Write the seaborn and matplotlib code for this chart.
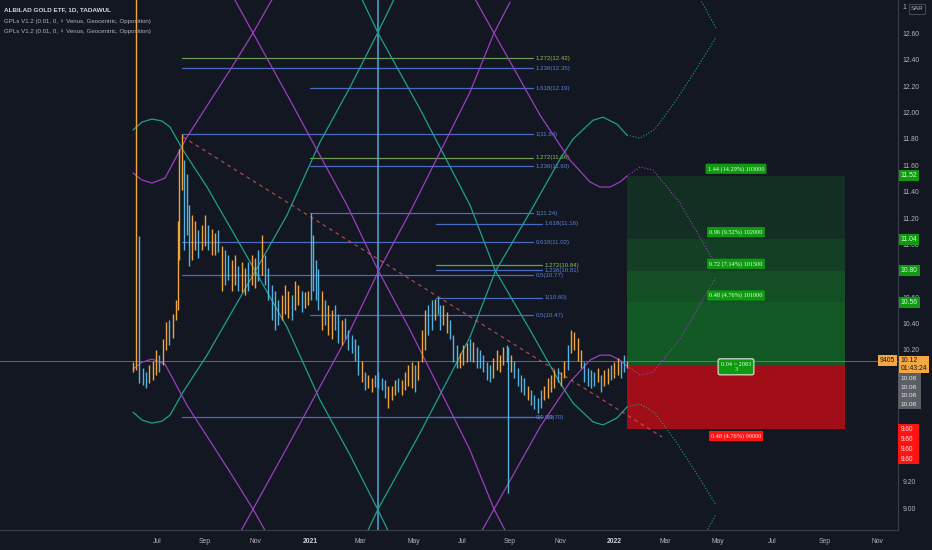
import numpy as np
import pandas as pd
import matplotlib
matplotlib.use("Agg")
import matplotlib.pyplot as plt
import matplotlib.transforms as mtransforms
from matplotlib.patches import Rectangle
import seaborn as sns

# ---------------- data (x = days from 2021-01-01, y = price SAR) ----------------
bar_day = [-212, -209, -205, -201, -197, -193, -189, -185, -181, -177, -173, -169, -165, -161, -159, -157,
           -154, -151, -148, -145, -142, -138, -134, -130, -126, -122, -118, -114, -110, -106, -102, -98,
           -94, -90, -86, -82, -78, -74, -70, -66, -62, -58, -54, -50, -46, -42, -38, -34, -30, -26, -22,
           -18, -14, -10, -6, -2, 1, 4, 7, 10, 14, 18, 22, 26, 30, 34, 38, 42, 46, 50, 54, 58, 62, 66, 70,
           74, 78, 82, 86, 90, 94, 98, 102, 106, 110, 114, 118, 122, 126, 130, 134, 138, 142, 146, 150,
           153, 156, 160, 164, 168, 172, 176, 180, 184, 188, 192, 196, 200, 204, 208, 212, 216, 220, 224,
           228, 232, 236, 238, 241, 245, 249, 253, 257, 261, 265, 269, 273, 277, 281, 285, 289, 293, 297,
           301, 305, 309, 313, 317, 321, 325, 329, 333, 337, 341, 345, 349, 353, 357, 361, 365, 369, 373,
           377, 380]
bar_low = [10.03, 10.05, 9.95, 9.935, 9.91, 9.95, 9.97, 10.01, 10.03, 10.09, 10.2, 10.24, 10.29, 10.43, 10.5,
           10.88, 11.41, 10.96, 11.07, 10.84, 10.88, 10.96, 10.9, 10.96, 10.99, 10.96, 10.92, 10.92, 10.94,
           10.65, 10.69, 10.73, 10.65, 10.69, 10.65, 10.64, 10.62, 10.65, 10.69, 10.67, 10.72, 10.77, 10.69,
           10.58, 10.43, 10.35, 10.39, 10.43, 10.47, 10.44, 10.43, 10.5, 10.54, 10.49, 10.52, 10.54, 10.58,
           10.65, 10.58, 10.5, 10.35, 10.39, 10.31, 10.28, 10.35, 10.25, 10.24, 10.28, 10.2, 10.18, 10.12,
           10.01, 9.96, 9.9, 9.91, 9.88, 9.92, 9.91, 9.9, 9.84, 9.76, 9.82, 9.86, 9.88, 9.86, 9.9, 9.93, 9.91,
           9.88, 9.97, 10.11, 10.2, 10.31, 10.35, 10.43, 10.47, 10.35, 10.39, 10.33, 10.28, 10.11, 10.06,
           10.06, 10.09, 10.11, 10.12, 10.11, 10.06, 10.06, 10.03, 9.97, 9.96, 9.99, 10.05, 10.03, 10.09,
           10.11, 9.12, 10.03, 9.99, 9.93, 9.88, 9.86, 9.82, 9.78, 9.75, 9.72, 9.76, 9.82, 9.84, 9.88, 9.91,
           9.96, 9.93, 9.99, 10.05, 10.18, 10.2, 10.12, 10.06, 9.96, 9.93, 9.91, 9.93, 9.96, 9.88, 9.93, 9.94,
           9.97, 9.99, 10.01, 9.99, 10.03, 10.06]
bar_high = [10.11, 12.95, 11.06, 10.06, 10.03, 10.09, 10.12, 10.2, 10.16, 10.28, 10.41, 10.43, 10.47, 10.58,
            11.18, 11.72, 11.84, 11.64, 11.53, 11.3, 11.22, 11.18, 11.11, 11.15, 11.22, 11.15, 11.12, 11.09,
            11.11, 10.99, 10.96, 10.92, 10.88, 10.92, 10.84, 10.87, 10.82, 10.87, 10.92, 10.9, 10.96, 11.07,
            10.92, 10.82, 10.69, 10.65, 10.58, 10.62, 10.69, 10.65, 10.62, 10.72, 10.69, 10.65, 10.64, 10.65,
            11.24, 11.07, 10.88, 10.81, 10.65, 10.58, 10.54, 10.5, 10.54, 10.47, 10.43, 10.44, 10.35, 10.31,
            10.28, 10.24, 10.12, 10.03, 10.01, 9.99, 10.01, 10.03, 9.99, 9.97, 9.93, 9.93, 9.97, 9.99, 9.97,
            10.03, 10.09, 10.11, 10.09, 10.12, 10.35, 10.5, 10.54, 10.58, 10.59, 10.6, 10.54, 10.54, 10.49,
            10.43, 10.31, 10.24, 10.18, 10.24, 10.25, 10.28, 10.26, 10.22, 10.2, 10.16, 10.11, 10.09, 10.14,
            10.2, 10.16, 10.22, 10.24, 10.22, 10.16, 10.12, 10.06, 10.01, 9.99, 9.93, 9.9, 9.86, 9.84, 9.9,
            9.93, 9.99, 10.01, 10.05, 10.06, 10.03, 10.12, 10.24, 10.35, 10.34, 10.29, 10.2, 10.11, 10.06,
            10.05, 10.03, 10.06, 10.01, 10.05, 10.06, 10.09, 10.11, 10.14, 10.12, 10.16, 10.12]
bar_dir = ("uuddduuuduuduuuuuddduuduuduududduuduuduududdddduuuduudu"
           "udddduduudduddddduduudddduuuduuuuduuuddudduuddduuudud"
           "dddduuuudduddddudddduuuuduudu" "uuudddduduuduudduuduu")

teal_a_day = [-212.4, -201.6, -189.6, -177.6, -168, -152.4, -123.6, -96, -68.4, -27.6, 12, 48, 81.6, 102]
teal_a_price = [11.867, 11.927, 11.95, 11.935, 11.89, 11.715, 11.435, 11.132, 10.829, 10.374, 9.821, 9.405, 8.988, 8.723]
teal_b_price = [9.729, 9.669, 9.646, 9.661, 9.706, 9.881, 10.161, 10.464, 10.767, 11.222, 11.775, 12.191, 12.608, 12.873]
teal_c_day = [60, 81.6, 132, 192, 222, 264, 300, 315.6, 339.6, 351.6, 368.4, 380.4]
teal_c_price = [12.889, 12.602, 12.026, 11.298, 10.806, 10.352, 9.95, 9.798, 9.655, 9.632, 9.685, 9.768]
teal_d_price = [8.707, 8.994, 9.57, 10.298, 10.79, 11.244, 11.646, 11.798, 11.941, 11.964, 11.911, 11.828]
teal_proj_day = [380.4, 396, 414, 440.4, 462, 487.2]
teal_proj_c = [9.768, 9.791, 9.723, 9.495, 9.283, 9.026]
teal_proj_d = [11.828, 11.805, 11.873, 12.101, 12.313, 12.57]
teal_wrap_day = [465.6, 487.2]
teal_wrap_top = [12.889, 12.64]
teal_wrap_bot = [8.707, 8.956]

pur_1_day = [-212.4, -201.6, -189.6, -174, -147.6, -96, -68.4, -48, -30]
pur_1_price = [11.541, 11.488, 11.465, 11.503, 11.814, 12.321, 12.602, 12.829, 13.018]
pur_2_price = [10.055, 10.108, 10.131, 10.093, 9.782, 9.275, 8.994, 8.767, 8.578]
pur_3_day = [-96, -68.4, -24, 8.4, 44.4, 81.6, 120, 156, 192, 220.8, 240]
pur_3_price = [12.92, 12.602, 12.094, 11.715, 11.298, 10.806, 10.352, 9.897, 9.442, 8.995, 8.761]
pur_4_price = [8.677, 8.994, 9.502, 9.881, 10.298, 10.79, 11.244, 11.699, 12.154, 12.601, 12.835]
pur_5_day = [192, 220.8, 276, 312, 336, 348, 360, 372, 380.4]
pur_5_price = [12.927, 12.602, 11.98, 11.639, 11.473, 11.435, 11.435, 11.473, 11.518]
pur_6_price = [8.669, 8.994, 9.616, 9.957, 10.123, 10.161, 10.161, 10.123, 10.078]
pur_proj_day = [380.4, 396, 411.6, 444, 487.2]
pur_proj_5 = [11.518, 11.586, 11.564, 11.314, 10.844]
pur_proj_6 = [10.078, 10.01, 10.032, 10.282, 10.752]

fib_start = [-153.6, -153.6, 0, -153.6, 0, 0, 0, 151.2, -153.6, 151.2, 151.2, -153.6, 151.2, 0, -153.6, 151.2]
fib_end = [267.6, 267.6, 267.6, 267.6, 267.6, 267.6, 267.6, 278.4, 267.6, 278.4, 278.4, 267.6, 278.4, 267.6, 267.6, 278.4]
fib_price = [12.412, 12.336, 12.185, 11.836, 11.655, 11.594, 11.238, 11.155, 11.018, 10.844, 10.806, 10.768,
             10.594, 10.465, 9.692, 9.692]
fib_label = ["1.272(12.42)", "1.236(12.35)", "1.618(12.19)", "1(11.84)", "1.272(11.66)", "1.236(11.60)",
             "1(11.24)", "1.618(11.16)", "0.618(11.02)", "1.272(10.84)", "1.236(10.81)", "0.5(10.77)",
             "1(10.60)", "0.5(10.47)", "0(9.70)", "0(9.70)"]
fib_kind = "gbbbgbbbbgbbbbbb"

trend_day = [-152.4, 422.4]
trend_price = [11.814, 9.541]
cycle_day = 81.6
last_price = 10.12

pos_start, pos_end = 380.4, 642
entry, stop = 10.08, 9.60
targets = [10.56, 10.80, 11.04, 11.52]
target_text = ["0.48 (4.76%) 101000", "0.72 (7.14%) 101500", "0.96 (9.52%) 102000", "1.44 (14.29%) 103000"]
stop_text = "0.48 (4.76%) 99000"
center_text = "0.04 ~ 2083\n3"

tick_pos = [-182.8, -126.5, -65.3, 0.2, 60.2, 124.6, 182.6, 239.6, 300.8, 364.6, 425.8, 488.8, 554.4, 618, 680.4]
tick_lab = ["Jul", "Sep", "Nov", "2021", "Mar", "May", "Jul", "Sep", "Nov", "2022", "Mar", "May", "Jul", "Sep", "Nov"]
ytick_vals = [9.0, 9.2, 9.4, 9.6, 9.8, 10.0, 10.2, 10.4, 10.6, 10.8, 11.0, 11.2, 11.4, 11.6, 11.8, 12.0, 12.2, 12.4, 12.6, 12.8]
ytick_lab = ["9.00", "9.20", "", "", "", "", "10.20", "10.40", "10.60", "10.80", "11.00",
             "11.20", "11.40", "11.60", "11.80", "12.00", "12.20", "12.40", "12.60", "1"]

# ---------------- style ----------------
BG = "#131722"
TXT = "#b2b5be"
UP = "#f0a53a"
DN = "#55b3e0"
TEAL = "#1fa08c"
PURP = "#9a3fc0"
FIB_B = "#4a6bc4"
FIB_G = "#6f9c55"
LAB_B = "#5a80da"
LAB_G = "#8cc152"

sns.set_theme(style="dark", rc={"axes.facecolor": BG, "figure.facecolor": BG, "axes.edgecolor": "#363a45",
                                "text.color": TXT, "xtick.color": TXT, "ytick.color": TXT, "axes.grid": False})
plt.rcParams["font.family"] = ["Liberation Sans", "DejaVu Sans"]

fig = plt.figure(figsize=(9.32, 5.5), dpi=100)
ax = fig.add_axes([0, 20 / 550, 898 / 932, 530 / 550])
ax.set_facecolor(BG)

# position tool
for tp in targets:
    ax.fill_between([pos_start, pos_end], entry, tp, color="#14822a", alpha=0.22, lw=0, zorder=1)
ax.fill_between([pos_start, pos_end], stop, entry, color="#a10e17", alpha=1.0, lw=0, zorder=1)

# fib levels
for s, e, p, lab, k in zip(fib_start, fib_end, fib_price, fib_label, fib_kind):
    ax.plot([s, e], [p, p], color=FIB_G if k == "g" else FIB_B, lw=0.9, zorder=2)
    ax.text(e + 3.6, p, lab, color=LAB_G if k == "g" else LAB_B, fontsize=4.4, va="center", ha="left", zorder=3)

# cycle vertical line and last price line
ax.axvline(cycle_day, color="#4aa8d8", lw=1.1, zorder=2)
ax.axhline(last_price, color="#8a8d96", lw=0.6, alpha=0.8, zorder=2)

# GPL lines with seaborn
def gpl(day, price, color, dotted=False):
    df = pd.DataFrame({"day": day, "price": price})
    kw = dict(linestyle=(0, (1, 1.6)), lw=0.8) if dotted else dict(lw=0.9)
    sns.lineplot(data=df, x="day", y="price", color=color, sort=False, estimator=None, ax=ax, zorder=3, **kw)

gpl(teal_a_day, teal_a_price, TEAL)
gpl(teal_a_day, teal_b_price, TEAL)
gpl(teal_c_day, teal_c_price, TEAL)
gpl(teal_c_day, teal_d_price, TEAL)
gpl(teal_proj_day, teal_proj_c, TEAL, True)
gpl(teal_proj_day, teal_proj_d, TEAL, True)
gpl(teal_wrap_day, teal_wrap_top, TEAL, True)
gpl(teal_wrap_day, teal_wrap_bot, TEAL, True)
gpl(pur_1_day, pur_1_price, PURP)
gpl(pur_1_day, pur_2_price, PURP)
gpl(pur_3_day, pur_3_price, PURP)
gpl(pur_3_day, pur_4_price, PURP)
gpl(pur_5_day, pur_5_price, PURP)
gpl(pur_5_day, pur_6_price, PURP)
gpl(pur_proj_day, pur_proj_5, PURP, True)
gpl(pur_proj_day, pur_proj_6, PURP, True)

# trend line
ax.plot(trend_day, trend_price, color="#e05a5a", lw=0.9, alpha=0.75, dashes=(3, 3), zorder=3)

# price bars
bar_cols = [UP if c == "u" else DN for c in bar_dir[:len(bar_day)]]
ax.vlines(bar_day, bar_low, bar_high, colors=bar_cols, lw=1.0, zorder=4)

# position tool labels
pc = (pos_start + pos_end) / 2
for tp, t in zip(targets, target_text):
    ax.annotate(t, (pc, tp), xytext=(0, 7), textcoords="offset pixels", ha="center", va="center",
                fontsize=4.5, family="Liberation Serif", color="#e6ffe6", zorder=6,
                bbox=dict(boxstyle="round,pad=0.35,rounding_size=0.15", fc="#0f9a12", ec="none"))
ax.annotate(stop_text, (pc, stop), xytext=(0, -7), textcoords="offset pixels", ha="center", va="center",
            fontsize=4.5, family="Liberation Serif", color="#ffe6e6", zorder=6,
            bbox=dict(boxstyle="square,pad=0.35", fc="#ff1414", ec="none"))
ax.annotate(center_text, (pc, entry), xytext=(0, -1), textcoords="offset pixels", ha="center", va="center",
            fontsize=4.5, family="Liberation Serif", color="#e6ffe6", zorder=6, linespacing=1.1,
            bbox=dict(boxstyle="round,pad=0.45,rounding_size=0.3", fc="#0f9a12", ec="#e8e8e8", lw=0.8))

# axes
ax.set_xlim(-372, 705.6)
ax.set_ylim(8.836, 12.852)
ax.set_xlabel("")
ax.set_ylabel("")
ax.yaxis.tick_right()
ax.set_yticks(ytick_vals, ytick_lab)
ax.set_xticks(tick_pos, tick_lab)
ax.tick_params(axis="y", length=0, pad=3, labelsize=4.9, labelcolor=TXT)
ax.tick_params(axis="x", length=0, pad=5.5, labelsize=4.9, labelcolor=TXT)
for t in ax.get_xticklabels():
    if t.get_text() in ("2021", "2022"):
        t.set_fontweight("bold")
        t.set_color("#d1d4dc")
for s in ("left", "top"):
    ax.spines[s].set_visible(False)
for s in ("right", "bottom"):
    ax.spines[s].set_color("#3a3e49")
    ax.spines[s].set_linewidth(0.8)

trans = mtransforms.blended_transform_factory(ax.transAxes, ax.transData)
box_kw = dict(fontsize=4.9, ha="left", va="center", zorder=7, transform=trans)
for tp in targets:
    ax.text(1.003, tp, f"{tp:.2f}", color="#d8ffd8",
            bbox=dict(boxstyle="square,pad=0.3", fc="#0f9a12", ec="none"), **box_kw)

# stacked axis labels (background blocks in figure pixels)
ax.add_patch(Rectangle((898 / 932, 1 - 409 / 550), 23 / 932, 36 / 550, transform=fig.transFigure,
                       fc="#5d5f66", ec="none", clip_on=False, zorder=6.5))
ax.add_patch(Rectangle((898 / 932, 1 - 464 / 550), 21 / 932, 40 / 550, transform=fig.transFigure,
                       fc="#ff1414", ec="none", clip_on=False, zorder=6.5))
for off in [13, 21.5, 30, 38.5]:
    ax.annotate(f"{entry:.2f}", (1.003, entry), xycoords=trans, xytext=(0, -off), textcoords="offset pixels",
                fontsize=4.6, ha="left", va="center", color="#e6e6e6", zorder=7)
for off in [0, 10, 20, 30]:
    ax.annotate(f"{stop:.2f}", (1.003, stop), xycoords=trans, xytext=(0, -off), textcoords="offset pixels",
                fontsize=4.7, ha="left", va="center", color="#ffe0e0", zorder=7)
ax.annotate(f"{last_price:.2f}\n01:43:24", (1.003, last_price), xycoords=trans, xytext=(0, -4),
            textcoords="offset pixels", fontsize=4.9, ha="left", va="center", color="#131722", zorder=8,
            linespacing=1.1, bbox=dict(boxstyle="square,pad=0.2", fc="#f5a742", ec="none"))
ax.annotate("9405", (1.0, last_price), xycoords=trans, xytext=(-3, 0), textcoords="offset pixels",
            fontsize=4.9, ha="right", va="center", color="#131722", zorder=8,
            bbox=dict(boxstyle="square,pad=0.3", fc="#f5a742", ec="none"))

# header
fig.text(4 / 932, 1 - 10 / 550, "ALBILAD GOLD ETF, 1D, TADAWUL", color="#d1d4dc", fontsize=4.6,
         fontweight="bold", va="center", ha="left")
for yy in (21, 32):
    fig.text(4 / 932, 1 - yy / 550, "GPLs V1.2 (0.01, 0, \u2640 Venus, Geocentric, Opposition)", color=TXT,
             fontsize=4.4, va="center", ha="left")
fig.text(917 / 932, 1 - 9 / 550, "SAR", color=TXT, fontsize=4.4, va="center", ha="center",
         bbox=dict(boxstyle="square,pad=0.35", fc=BG, ec="#50535e", lw=0.6))

fig.savefig("out.png", dpi=100, facecolor=BG)
